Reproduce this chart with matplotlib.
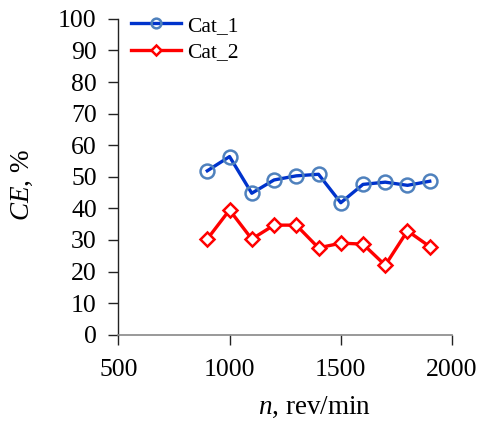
import matplotlib
matplotlib.use("Agg")
import matplotlib.pyplot as plt
from matplotlib.ticker import MultipleLocator

speed = [900, 1000, 1100, 1200, 1300, 1400, 1500, 1600, 1700, 1800, 1900]
cat_1 = [51.9, 56.4, 44.8, 49.0, 50.3, 50.8, 41.8, 47.6, 48.3, 47.3, 48.6]
cat_2 = [30.3, 39.5, 30.3, 34.7, 34.7, 27.5, 29.0, 28.7, 22.0, 32.9, 27.9]
series_names = ["Cat_1", "Cat_2"]

plt.rcParams['font.family'] = ['Liberation Serif', 'DejaVu Serif']
plt.rcParams['mathtext.fontset'] = 'custom'
plt.rcParams['mathtext.rm'] = 'Liberation Serif'
plt.rcParams['mathtext.it'] = 'Liberation Serif:italic'

fig = plt.figure(figsize=(4.79, 4.21), dpi=100)
ax = fig.add_axes([0.247, 0.2048, 0.6966, 0.7505])

ax.plot(speed, cat_1, color='#0033CC', lw=2.4, marker='o', ms=10,
        mfc='none', mec='#4F81BD', mew=1.8, label=series_names[0])
ax.plot(speed, cat_2, color='#FF0000', lw=2.4, marker='D', ms=7.5,
        mfc='white', mec='#FF0000', mew=1.8, label=series_names[1])

ax.set_xlim(500, 2000)
ax.set_ylim(0, 100)
ax.xaxis.set_major_locator(MultipleLocator(500))
ax.yaxis.set_major_locator(MultipleLocator(10))

for s in ['top', 'right']:
    ax.spines[s].set_visible(False)
ax.spines['bottom'].set_color('#888888')
ax.spines['left'].set_color('#222222')
ax.spines['bottom'].set_linewidth(1.2)
ax.spines['left'].set_linewidth(1.0)
ax.tick_params(axis='x', direction='out', length=7, width=1, color='#222222',
               labelsize=18.5, pad=10.5)
ax.tick_params(axis='y', direction='out', length=7, width=1, color='#222222',
               labelsize=18.5, pad=8.5)

ax.set_xlabel(r'$\it{n}$, rev/min', fontsize=19.5)
ax.set_ylabel(r'$\it{CE}$, %', fontsize=19.5)
ax.xaxis.set_label_coords(0.589, -0.19)
ax.yaxis.set_label_coords(-0.25, 0.475)

leg = ax.legend(loc='upper left', bbox_to_anchor=(0.0, 1.05), frameon=False,
                fontsize=15.5, handlelength=2.3, handletextpad=0.3,
                labelspacing=0.3, borderaxespad=0.2, markerscale=0.7)

fig.savefig('out.png', dpi=100)
